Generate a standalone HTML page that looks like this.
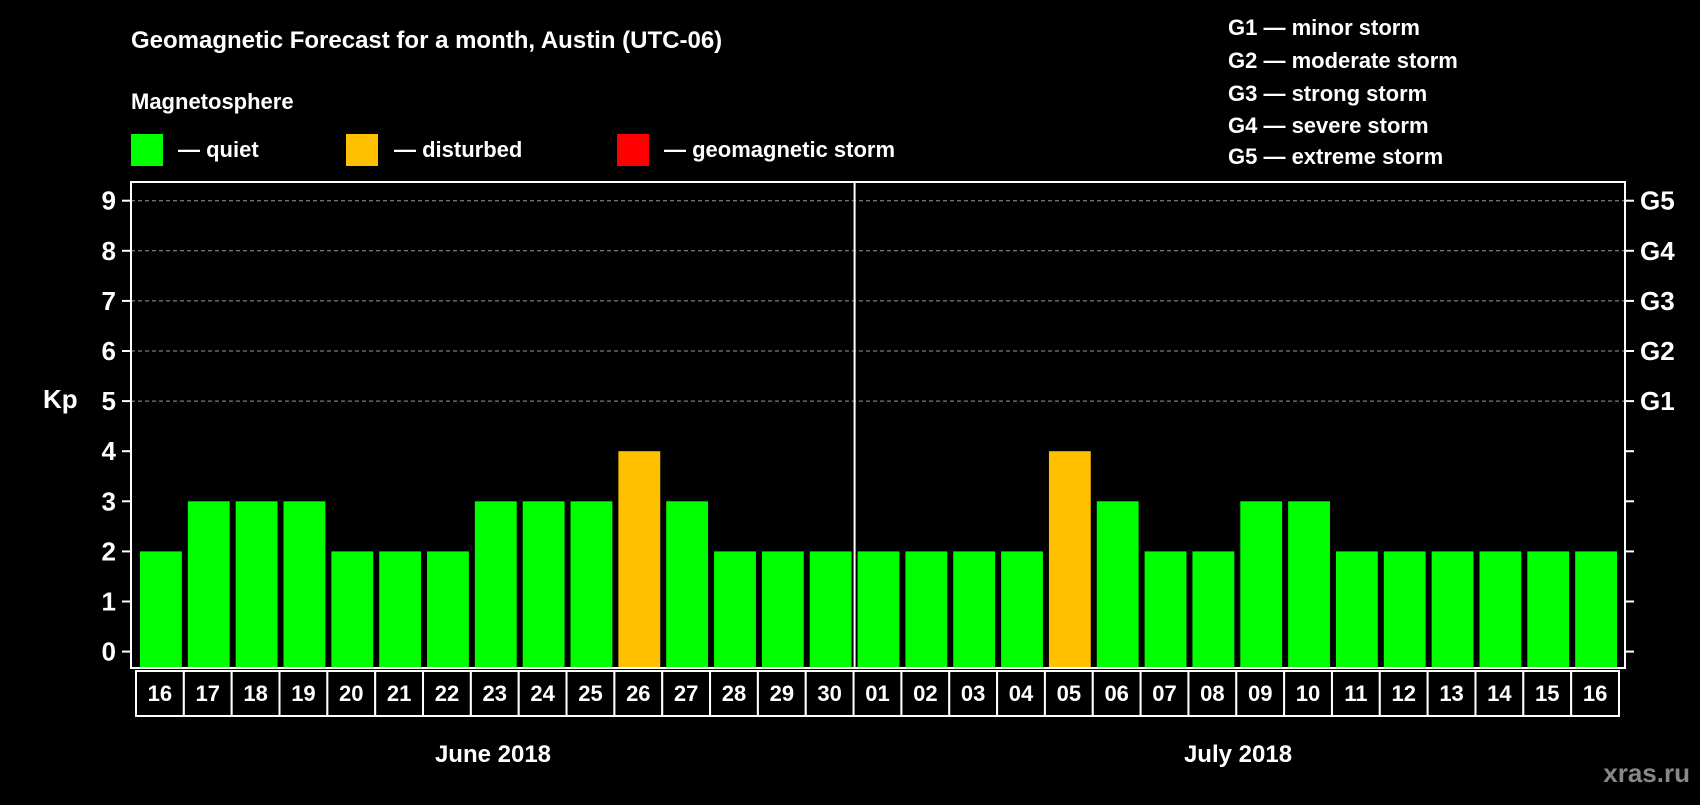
<!DOCTYPE html>
<html><head><meta charset="utf-8"><style>
body{margin:0;background:#000;width:1700px;height:800px;overflow:hidden;font-family:"Liberation Sans",Arial,sans-serif;font-weight:bold;color:#fff}
svg text{font-family:"Liberation Sans",Arial,sans-serif;font-weight:bold}
</style></head><body>
<svg id="c" width="1700" height="800" xmlns="http://www.w3.org/2000/svg">
<rect width="1700" height="800" fill="#000"/>
<text x="131" y="48" font-size="24" fill="#fff">Geomagnetic Forecast for a month, Austin (UTC-06)</text>
<text x="131" y="109" font-size="22" fill="#fff">Magnetosphere</text>
<g><rect x="131" y="134" width="32" height="32" fill="#00ff00"/><text x="178" y="157" font-size="22" fill="#fff">— quiet</text></g>
<g><rect x="346" y="134" width="32" height="32" fill="#ffc000"/><text x="394" y="157" font-size="22" fill="#fff">— disturbed</text></g>
<g><rect x="617" y="134" width="32" height="32" fill="#ff0000"/><text x="664" y="157" font-size="22" fill="#fff">— geomagnetic storm</text></g>
<g font-size="22" fill="#fff">
<text x="1228" y="35">G1 — minor storm</text>
<text x="1228" y="68">G2 — moderate storm</text>
<text x="1228" y="101">G3 — strong storm</text>
<text x="1228" y="133">G4 — severe storm</text>
<text x="1228" y="164">G5 — extreme storm</text>
</g>
<text x="43" y="408" font-size="26" fill="#fff">Kp</text>
<g id="plot"></g>
<text x="493" y="762" font-size="24" fill="#fff" text-anchor="middle">June 2018</text>
<text x="1238" y="762" font-size="24" fill="#fff" text-anchor="middle">July 2018</text>
<text x="1690" y="782" font-size="26" fill="#888" text-anchor="end">xras.ru</text>
</svg>
<script>
const days=["16","17","18","19","20","21","22","23","24","25","26","27","28","29","30","01","02","03","04","05","06","07","08","09","10","11","12","13","14","15","16"];
const kp=[2,3,3,3,2,2,2,3,3,3,4,3,2,2,2,2,2,2,2,4,3,2,2,3,3,2,2,2,2,2,2];
const yTicks=[0,1,2,3,4,5,6,7,8,9];
const gLabels=["G1","G2","G3","G4","G5"];
const gLevels=[5,6,7,8,9];
const NS="http://www.w3.org/2000/svg";
const L=131,R=1625,T=182,B=668,y0=651.6,unit=50.1;
const bx0=137,bx1=1620;
const slot=(bx1-bx0)/days.length;
function y(v){return y0-v*unit;}
function x(i){return bx0+i*slot;}
const g=document.getElementById('plot');
function mk(tag,attrs){const e=document.createElementNS(NS,tag);for(const k in attrs)e.setAttribute(k,attrs[k]);g.appendChild(e);return e;}
// grid lines
gLevels.forEach(v=>{const e=mk('line',{x1:L,x2:R,y1:y(v),y2:y(v),stroke:'#999','stroke-width':1,'stroke-dasharray':'4,3'});

});
// bars
kp.forEach((v,i)=>{const e=mk('rect',{x:x(i)+3,y:y(v),width:slot-6,height:B-y(v),fill:v>=5?'#ff0000':(v>=4?'#ffc000':'#00ff00')});

});
// frame
const fr=mk('rect',{x:L,y:T,width:R-L,height:B-T,fill:'none',stroke:'#fff','stroke-width':2});


const sep=mk('line',{x1:x(15),x2:x(15),y1:T,y2:B,stroke:'#fff','stroke-width':2});


// y ticks
yTicks.forEach(v=>{mk('line',{x1:L-9,x2:L,y1:y(v),y2:y(v),stroke:'#fff','stroke-width':2});
mk('line',{x1:R,x2:R+9,y1:y(v),y2:y(v),stroke:'#fff','stroke-width':2});
const t=mk('text',{x:116,y:y(v)+9,'font-size':26,fill:'#fff','text-anchor':'end'});t.textContent=v;

});
gLabels.forEach((s,i)=>{const t=mk('text',{x:1640,y:y(gLevels[i])+9,'font-size':26,fill:'#fff'});t.textContent=s;

});
// date boxes
days.forEach((d,i)=>{const r=mk('rect',{x:x(i)-1,y:671,width:slot,height:45,fill:'#000',stroke:'#fff','stroke-width':2});


const t=mk('text',{x:x(i)-1+slot/2,y:701,'font-size':22,fill:'#fff','text-anchor':'middle'});t.textContent=d;

});
</script>
</body></html>
